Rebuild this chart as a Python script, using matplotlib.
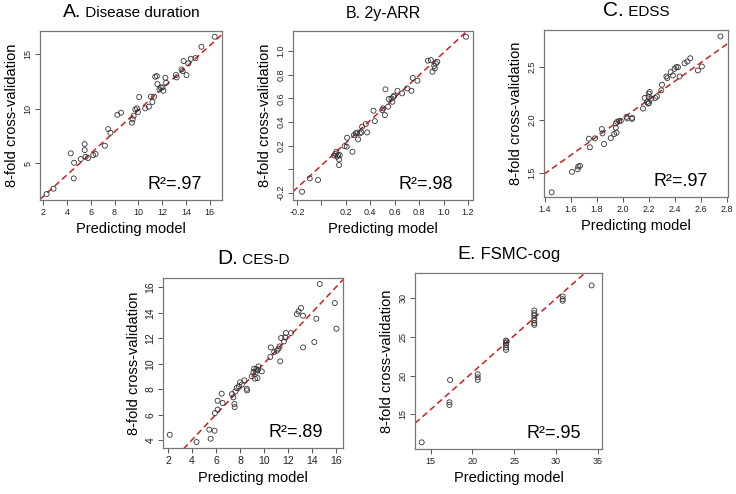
import matplotlib
matplotlib.use("Agg")
import matplotlib.pyplot as plt
from matplotlib.offsetbox import TextArea, HPacker, AnchoredOffsetbox
import numpy as np

plt.rcParams['font.family'] = ['Liberation Sans', 'DejaVu Sans']

# A. Disease duration
a_x = [2.28, 2.86, 4.31, 4.59, 4.56, 5.15, 5.48, 5.48, 5.56, 5.76, 6.2, 6.4, 7.18, 7.46,
       7.65, 8.23, 8.54, 9.46, 9.52, 9.6, 9.74, 9.88, 9.96, 10.07, 10.57, 10.88, 11.05,
       11.18, 11.32, 11.41, 11.55, 11.6, 11.77, 11.88, 12.02, 12.1, 12.27, 12.33, 13.16,
       13.22, 13.63, 13.72, 13.8, 14.05, 14.19, 14.41, 14.8, 15.3, 16.42]
a_y = [2.19, 2.68, 5.92, 5.06, 3.62, 5.40, 6.77, 6.22, 5.61, 5.49, 5.76, 5.86, 6.62, 8.15,
       7.81, 9.46, 9.65, 8.73, 9.04, 9.37, 9.95, 10.05, 9.71, 11.09, 10.05, 10.2, 11.12,
       10.63, 11.12, 12.95, 13.01, 12.28, 11.79, 11.97, 11.97, 11.67, 12.86, 12.4, 13.1,
       12.89, 13.62, 13.47, 14.39, 13.1, 14.17, 14.6, 14.66, 15.7, 16.62]

# B. 2y-ARR
b_x = [-0.159, -0.096, -0.028, 0.103, 0.114, 0.122, 0.128, 0.136, 0.144, 0.144, 0.150,
       0.19, 0.207, 0.21, 0.254, 0.267, 0.281, 0.292, 0.3, 0.314, 0.327, 0.333, 0.363,
       0.374, 0.426, 0.437, 0.497, 0.505, 0.519, 0.524, 0.546, 0.551, 0.573, 0.581, 0.59,
       0.595, 0.622, 0.661, 0.702, 0.737, 0.748, 0.786, 0.871, 0.896, 0.909, 0.928, 0.923,
       0.937, 0.948, 1.183]
b_y = [-0.192, -0.079, -0.093, 0.116, 0.128, 0.147, 0.105, 0.119, 0.082, 0.034, 0.119,
       0.195, 0.19, 0.266, 0.147, 0.289, 0.303, 0.309, 0.252, 0.303, 0.311, 0.359, 0.382,
       0.311, 0.495, 0.407, 0.501, 0.515, 0.458, 0.676, 0.529, 0.594, 0.599, 0.571, 0.613,
       0.622, 0.664, 0.642, 0.684, 0.664, 0.772, 0.749, 0.919, 0.924, 0.825, 0.854, 0.874,
       0.896, 0.91, 1.122]

# C. EDSS
c_x = [1.451, 1.607, 1.651, 1.669, 1.656, 1.738, 1.745, 1.784, 1.837, 1.842, 1.855, 1.906,
       1.932, 1.945, 1.945, 1.95, 1.955, 1.97, 1.983, 2.027, 2.032, 2.07, 2.07, 2.154,
       2.167, 2.185, 2.193, 2.198, 2.206, 2.198, 2.2, 2.218, 2.249, 2.262, 2.295, 2.3,
       2.341, 2.334, 2.367, 2.384, 2.397, 2.41, 2.423, 2.436, 2.474, 2.495, 2.518, 2.576,
       2.607, 2.75]
c_y = [1.319, 1.512, 1.537, 1.569, 1.562, 1.825, 1.744, 1.828, 1.916, 1.875, 1.775, 1.831,
       1.869, 1.969, 1.928, 1.881, 1.984, 1.991, 1.994, 2.031, 2.016, 2.022, 2.012, 2.109,
       2.209, 2.172, 2.156, 2.219, 2.266, 2.25, 2.162, 2.203, 2.209, 2.225, 2.281, 2.334,
       2.397, 2.412, 2.453, 2.422, 2.484, 2.5, 2.5, 2.412, 2.537, 2.553, 2.584, 2.469,
       2.506, 2.79]

# D. CES-D
d_x = [2.14, 4.37, 5.54, 5.43, 5.87, 5.9, 6.12, 6.12, 6.46, 6.54, 7.32, 7.43, 7.52, 7.54,
       7.6, 7.71, 7.88, 7.99, 8.13, 8.35, 8.55, 8.57, 8.96, 9.1, 9.16, 9.24, 9.3, 9.35,
       9.44, 9.47, 9.52, 9.8, 10.5, 10.55, 10.83, 11.05, 11.19, 11.28, 11.33, 11.41, 11.64,
       11.75, 11.81, 12.22, 12.72, 12.86, 13.06, 13.23, 13.23, 14.17, 14.34, 14.62, 15.87,
       16.01]
d_y = [4.44, 3.87, 4.13, 4.84, 4.76, 6.14, 6.41, 7.11, 7.66, 6.93, 7.63, 7.37, 6.85, 6.61,
       7.84, 8.1, 8.24, 8.55, 8.37, 8.71, 8.05, 7.92, 9.02, 9.36, 9.62, 8.84, 9.36, 9.59,
       8.89, 9.52, 9.8, 9.41, 10.54, 11.29, 10.93, 11.03, 11.19, 11.37, 10.2, 12.03, 11.76,
       12.08, 12.42, 12.42, 13.91, 14.12, 14.38, 13.78, 11.29, 11.71, 13.54, 16.26, 14.77,
       12.76]

# E. FSMC-cog
e_x = [13.92, 17.32, 17.24, 17.24, 20.63, 20.63, 20.63, 24.02, 24.02, 24.02, 24.02, 24.02,
       24.1, 27.41, 27.41, 27.41, 27.41, 27.41, 27.41, 27.41, 30.81, 30.81, 30.81, 34.28]
e_y = [11.38, 19.44, 16.55, 16.21, 20.17, 19.78, 19.44, 24.53, 24.18, 23.97, 23.62, 23.32,
       24.4, 28.41, 28.06, 27.76, 27.41, 27.11, 26.77, 26.55, 30.22, 29.87, 29.66, 31.64]

panels = [
    # letter, name, x, y, r2, (intercept, slope), xlim, ylim, xticks, yticks, position,
    # tick size, (letter size, name size)
    ("A.", "Disease duration", a_x, a_y, "R²=.97", (0.0, 0.988), (1.72, 17.03), (1.64, 17.14),
     [2, 4, 6, 8, 10, 12, 14, 16], [5, 10, 15], [0.0543, 0.5951, 0.2473, 0.342], 6.5,
     (14, 11)),
    ("B.", "2y-ARR", b_x, b_y, "R²=.98", (0.032, 0.955), (-0.233, 1.241), (-0.262, 1.17),
     [-0.2, 0.0, 0.2, 0.4, 0.6, 0.8, 1.0, 1.2], [-0.2, 0.0, 0.2, 0.4, 0.6, 0.8, 1.0],
     [0.3981, 0.5951, 0.2446, 0.342], 6.5, (11.5, 11.5)),
    ("C.", "EDSS", c_x, c_y, "R²=.97", (0.276, 0.872), (1.392, 2.808), (1.275, 2.85),
     [1.4, 1.6, 1.8, 2.0, 2.2, 2.4, 2.6, 2.8], [1.5, 2.0, 2.5],
     [0.7391, 0.6012, 0.25, 0.338], 6.5, (15, 11)),
    ("D.", "CES-D", d_x, d_y, "R²=.89", (0.05, 1.0), (1.58, 16.56), (3.40, 16.73),
     [2, 4, 6, 8, 10, 12, 14, 16], [4, 6, 8, 10, 12, 14, 16],
     [0.2215, 0.0931, 0.2446, 0.344], 7.5, (15, 11)),
    ("E.", "FSMC-cog", e_x, e_y, "R²=.95", (1.34, 0.953), (13.12, 35.52), (10.52, 33.23),
     [15, 20, 25, 30, 35], [15, 20, 25, 30],
     [0.5639, 0.0911, 0.254, 0.356], 6.5, (14, 12)),
]

fig = plt.figure(figsize=(7.36, 4.94), dpi=100)

for letter, name, x, y, r2, (b0, b1), xl, yl, xt, yt, pos, ts, (s1, s2) in panels:
    ax = fig.add_axes(pos)
    ax.scatter(x, y, s=13, facecolors='none', edgecolors='#333333', linewidths=0.6, zorder=3)
    xx = np.array(xl)
    ax.plot(xx, b0 + b1 * xx, color='#cc2020', lw=1.1, ls=(0, (4, 2.5)), zorder=2)
    ax.set_xlim(*xl)
    ax.set_ylim(*yl)
    ax.set_xticks(xt)
    ax.set_yticks(yt)
    fmt = (lambda v: f"{v:g}") if letter in ("A.", "D.", "E.") else (lambda v: f"{v:.1f}")
    xlabels = [fmt(v) for v in xt]
    ylabels = [fmt(v) for v in yt]
    if letter == "B.":
        xlabels = ['' if v == 0 else s for v, s in zip(xt, xlabels)]
        ylabels = ['' if v == 0 else s for v, s in zip(yt, ylabels)]
    ax.set_xticklabels(xlabels)
    ax.set_yticklabels(ylabels, rotation=90, va='center')
    ax.tick_params(labelsize=ts, length=3.5, width=0.7, color='#555555',
                   labelcolor='#222222', pad=2)
    for sp in ax.spines.values():
        sp.set_color('#777777')
        sp.set_linewidth(0.9)
    ax.set_xlabel("Predicting model", fontsize=10.5, labelpad=4)
    ax.set_ylabel("8-fold cross-validation", fontsize=10.5, labelpad=3)
    ax.text(0.89, 0.04, r2, transform=ax.transAxes, ha='right', va='bottom', fontsize=13)
    t1 = TextArea(letter, textprops=dict(fontsize=s1))
    t2 = TextArea(" " + name, textprops=dict(fontsize=s2))
    box = HPacker(children=[t1, t2], align='baseline', pad=0, sep=0)
    anch = AnchoredOffsetbox(loc='lower center', child=box, pad=0, frameon=False,
                             bbox_to_anchor=(0.5, 1.06), bbox_transform=ax.transAxes,
                             borderpad=0)
    ax.add_artist(anch)

fig.savefig("out.png", dpi=100)
